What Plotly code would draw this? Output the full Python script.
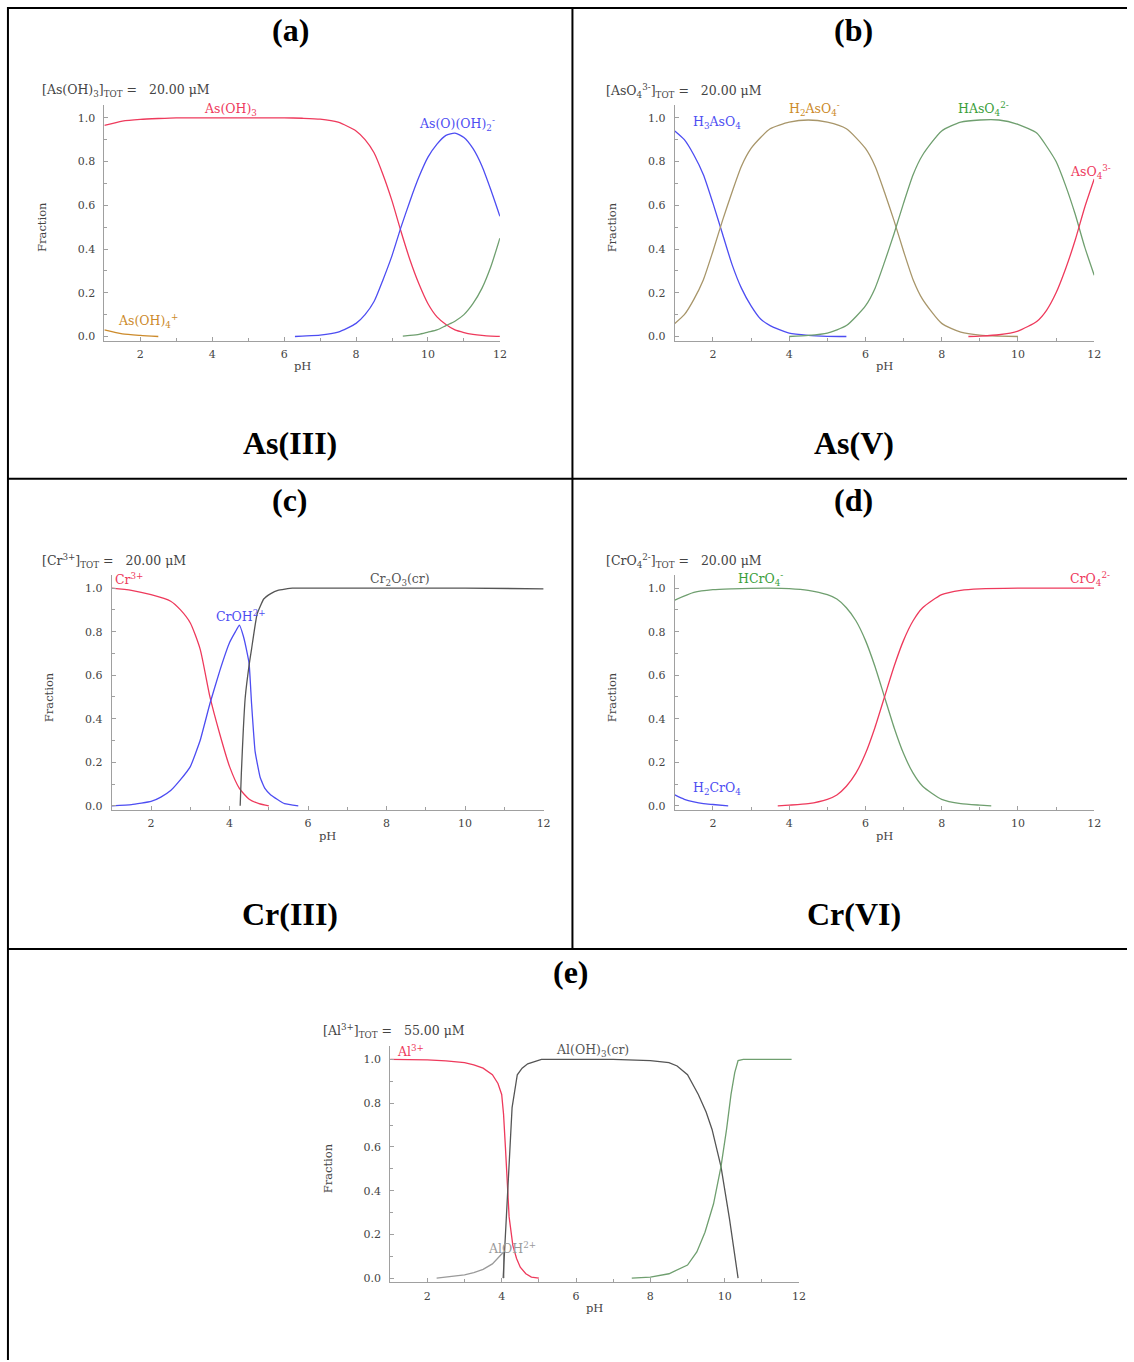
import plotly.graph_objects as go

W, H = 1134, 1362

# ---------------- DATA ----------------
# Panel (a) As(III)
ph_a = [1, 1.5, 2, 2.5, 3, 3.5, 4, 4.5, 5, 5.5, 6, 6.5, 7, 7.5, 8, 8.25, 8.5, 8.75, 9,
        9.25, 9.5, 9.75, 10, 10.25, 10.5, 10.75, 11, 11.25, 11.5, 11.75, 12]
as_oh3 = [0.965, 0.985, 0.993, 0.997, 1.0, 1.0, 1.0, 1.0, 1.0, 1.0, 1.0, 0.998, 0.994, 0.98, 0.94,
          0.9, 0.84, 0.74, 0.62, 0.48, 0.35, 0.24, 0.15, 0.09, 0.055, 0.03, 0.018, 0.01, 0.005, 0.002, 0.001]
ph_a_b = [6.3, 6.5, 7, 7.5, 8, 8.25, 8.5, 8.75, 9, 9.25, 9.5, 9.75, 10, 10.25, 10.5, 10.75, 11,
          11.25, 11.5, 11.75, 12]
as_o_oh2 = [0, 0.002, 0.006, 0.02, 0.06, 0.1, 0.16, 0.26, 0.37, 0.5, 0.62, 0.73, 0.82, 0.88, 0.92,
            0.93, 0.91, 0.86, 0.78, 0.67, 0.55]
ph_a_g = [9.3, 9.5, 9.75, 10, 10.25, 10.5, 10.75, 11, 11.25, 11.5, 11.75, 12]
aso2_oh = [0.002, 0.005, 0.01, 0.02, 0.03, 0.05, 0.07, 0.1, 0.15, 0.22, 0.32, 0.45]
ph_a_lo = [1, 1.5, 2, 2.5]
as_oh4 = [0.03, 0.012, 0.005, 0.0]

# Panel (b) As(V)
ph_b_1 = [1, 1.25, 1.5, 1.75, 2, 2.25, 2.5, 2.75, 3, 3.25, 3.5, 4, 4.5, 5, 5.5]
h3aso4 = [0.94, 0.9, 0.83, 0.74, 0.61, 0.47, 0.33, 0.22, 0.14, 0.08, 0.05, 0.015, 0.005, 0.001, 0]
ph_b_2 = [1, 1.25, 1.5, 1.75, 2, 2.25, 2.5, 2.75, 3, 3.25, 3.5, 4, 4.5, 5, 5.5, 6, 6.25, 6.5,
          6.75, 7, 7.25, 7.5, 8, 8.5, 9, 9.5, 10]
h2aso4 = [0.06, 0.1, 0.17, 0.26, 0.39, 0.53, 0.66, 0.78, 0.86, 0.91, 0.95, 0.98, 0.99, 0.98, 0.95,
          0.86, 0.78, 0.66, 0.53, 0.39, 0.26, 0.17, 0.06, 0.02, 0.006, 0.002, 0]
ph_b_3 = [4, 4.5, 5, 5.5, 6, 6.25, 6.5, 6.75, 7, 7.25, 7.5, 8, 8.5, 9, 9.5, 10, 10.5, 10.75, 11,
          11.25, 11.5, 11.75, 12]
haso4 = [0, 0.005, 0.016, 0.05, 0.14, 0.22, 0.34, 0.47, 0.61, 0.74, 0.83, 0.94, 0.98, 0.99, 0.99,
         0.97, 0.93, 0.87, 0.8, 0.69, 0.56, 0.41, 0.28]
ph_b_4 = [8.7, 9, 9.5, 10, 10.5, 10.75, 11, 11.25, 11.5, 11.75, 12]
aso4 = [0, 0.002, 0.008, 0.025, 0.07, 0.12, 0.2, 0.31, 0.44, 0.59, 0.72]

# Panel (c) Cr(III)
ph_c_cr3 = [1, 1.5, 2, 2.5, 2.75, 3, 3.25, 3.5, 3.75, 4, 4.25, 4.5, 4.75, 5]
cr3 = [1.0, 0.99, 0.97, 0.94, 0.9, 0.84, 0.72, 0.5, 0.33, 0.18, 0.08, 0.03, 0.01, 0.0]
ph_c_croh = [1, 1.5, 2, 2.25, 2.5, 2.75, 3, 3.25, 3.5, 3.75, 4, 4.15, 4.25, 4.35, 4.45, 4.5,
             4.56, 4.65, 4.78, 4.9, 5.05, 5.4, 5.75]
croh = [0.0, 0.005, 0.02, 0.04, 0.07, 0.12, 0.18, 0.3, 0.47, 0.62, 0.75, 0.8, 0.83, 0.78, 0.7,
        0.65, 0.47, 0.25, 0.13, 0.08, 0.05, 0.01, 0.0]
ph_c_ox = [4.27, 4.3, 4.35, 4.4, 4.5, 4.56, 4.7, 4.87, 5.05, 5.23, 5.6, 6, 8, 10, 12]
cr2o3 = [0, 0.15, 0.35, 0.5, 0.65, 0.72, 0.88, 0.95, 0.975, 0.99, 1.0, 1.0, 1.0, 1.0, 0.997]

# Panel (d) Cr(VI)
ph_d_h = [1, 1.5, 2, 2.5, 3, 3.5, 4, 4.5, 5, 5.25, 5.5, 5.75, 6, 6.25, 6.5, 6.75, 7, 7.25,
          7.5, 8, 8.5, 9, 9.3]
hcro4 = [0.945, 0.98, 0.993, 0.997, 0.999, 1.0, 0.998, 0.99, 0.97, 0.95, 0.91, 0.85, 0.76, 0.64,
         0.5, 0.36, 0.24, 0.15, 0.09, 0.03, 0.01, 0.003, 0.0]
ph_d_h2 = [1, 1.25, 1.5, 1.75, 2, 2.4]
h2cro4 = [0.05, 0.03, 0.018, 0.01, 0.006, 0.0]
ph_d_c = [3.7, 4, 4.5, 5, 5.25, 5.5, 5.75, 6, 6.25, 6.5, 6.75, 7, 7.25, 7.5, 8, 8.5, 9, 10, 11, 12]
cro4 = [0, 0.003, 0.01, 0.03, 0.05, 0.09, 0.15, 0.24, 0.36, 0.5, 0.64, 0.76, 0.85, 0.91, 0.97,
        0.99, 0.997, 1.0, 1.0, 1.0]

# Panel (e) Al
ph_e_al = [1, 1.5, 2, 2.5, 3, 3.25, 3.5, 3.75, 3.9, 4.0, 4.05, 4.1, 4.15, 4.2, 4.3, 4.4, 4.5,
           4.65, 4.8, 5.0]
al3 = [1.0, 1.0, 0.998, 0.993, 0.985, 0.975, 0.96, 0.93, 0.89, 0.84, 0.75, 0.6, 0.42, 0.28,
       0.15, 0.09, 0.05, 0.02, 0.005, 0.0]
ph_e_aloh = [2.25, 2.75, 3, 3.25, 3.5, 3.75, 3.9, 4.0, 4.05, 4.06]
aloh = [0.0, 0.008, 0.015, 0.025, 0.04, 0.065, 0.09, 0.11, 0.12, 0.0]
ph_e_s = [4.04, 4.1, 4.14, 4.2, 4.28, 4.42, 4.55, 4.7, 5.07, 5.5, 6, 7, 8, 8.5, 8.72, 9.0, 9.29,
          9.5, 9.66, 9.9, 10.13, 10.25, 10.36]
aloh3 = [0, 0.2, 0.33, 0.55, 0.78, 0.93, 0.96, 0.98, 1.0, 1.0, 1.0, 1.0, 0.995, 0.985, 0.97,
         0.93, 0.84, 0.76, 0.68, 0.51, 0.27, 0.14, 0.0]
ph_e_ao = [7.5, 8, 8.5, 9, 9.25, 9.47, 9.7, 9.9, 10.05, 10.17, 10.27, 10.36, 10.5, 11, 11.5, 11.8]
aloh4 = [0, 0.005, 0.02, 0.06, 0.12, 0.21, 0.34, 0.51, 0.68, 0.84, 0.94, 0.995, 1.0, 1.0, 1.0, 1.0]

x_ticks = [2, 4, 6, 8, 10, 12]
y_ticks = [0.0, 0.2, 0.4, 0.6, 0.8, 1.0]

# ---------------- STYLE ----------------
RED = "#ee3a5c"
BLUE = "#4d4df2"
GREEN = "#3a9e3a"
GREEN_L = "#6f9f6f"
ORANGE = "#cc8a2a"
OLIVE = "#a8966a"
DARK = "#555555"
GRAY = "#9a9a9a"
FONT = "DejaVu Serif"
TXT = "#444444"
AX = "#a0a0a0"

# panels: pixel positions of pH=1, pH=12, frac=0, frac=1
panels = {
    "a": dict(x1=105, x12=503, y0=337, y1=118),
    "b": dict(x1=679, x12=1101, y0=337, y1=118),
    "c": dict(x1=112.5, x12=547, y0=807, y1=589),
    "d": dict(x1=679, x12=1101, y0=807, y1=589),
    "e": dict(x1=392.6, x12=804, y0=1280, y1=1061),
}
YR = [-0.02, 1.06]

fig = go.Figure()
layout_axes = {}
annotations = []


def pann(text, px, py, size, color=TXT, family=FONT, xanchor="center", angle=0):
    annotations.append(dict(text=text, xref="paper", yref="paper", x=px / W, y=1 - py / H,
                            xanchor=xanchor, yanchor="middle", textangle=angle,
                            showarrow=False, font=dict(family=family, size=size, color=color)))


order = ["a", "b", "c", "d", "e"]
for i, k in enumerate(order):
    p = panels[k]
    n = "" if i == 0 else str(i + 1)
    s = p["y0"] - p["y1"]
    bot = p["y0"] - YR[0] * s
    top = p["y0"] - YR[1] * s
    layout_axes["xaxis" + n] = dict(
        domain=[p["x1"] / W, p["x12"] / W], range=[1, 12], anchor="y" + n,
        tickvals=x_ticks, showline=True, linecolor=AX, linewidth=1,
        ticks="inside", ticklen=4, tickcolor=AX, ticklabelstandoff=3,
        minor=dict(dtick=1, tick0=0, ticks="inside", ticklen=3, tickcolor=AX),
        showgrid=False, zeroline=False,
        tickfont=dict(family=FONT, size=11, color=TXT))
    layout_axes["yaxis" + n] = dict(
        domain=[1 - bot / H, 1 - top / H], range=YR, anchor="x" + n,
        tickvals=y_ticks, ticktext=["%.1f" % v for v in y_ticks],
        showline=True, linecolor=AX, linewidth=1,
        ticks="inside", ticklen=4, tickcolor=AX, ticklabelstandoff=6,
        minor=dict(dtick=0.1, tick0=0, ticks="inside", ticklen=3, tickcolor=AX),
        showgrid=False, zeroline=False,
        tickfont=dict(family=FONT, size=11, color=TXT))
    pann("Fraction", p["x1"] - 63, (p["y0"] + p["y1"]) / 2, 11.5, angle=-90)
    pann("pH", (p["x1"] + p["x12"]) / 2, p["y0"] + 30, 11.5)


def add_line(panel_idx, x, y, color, shape="spline", smoothing=0.6):
    n = "" if panel_idx == 0 else str(panel_idx + 1)
    line = dict(color=color, width=1.3, shape=shape)
    if shape == "spline":
        line["smoothing"] = smoothing
    fig.add_trace(go.Scatter(x=x, y=y, mode="lines", xaxis="x" + n, yaxis="y" + n,
                             line=line, showlegend=False, hoverinfo="skip"))


def label(panel_idx, text, x, y, color):
    n = "" if panel_idx == 0 else str(panel_idx + 1)
    annotations.append(dict(text=text, x=x, y=y, xref="x" + n, yref="y" + n,
                            showarrow=False, xanchor="center", yanchor="middle",
                            font=dict(family=FONT, size=12.5, color=color)))


# (a)
add_line(0, ph_a, as_oh3, RED)
add_line(0, ph_a_b, as_o_oh2, BLUE)
add_line(0, ph_a_g, aso2_oh, GREEN_L)
add_line(0, ph_a_lo, as_oh4, ORANGE)
label(0, "As(OH)<sub>3</sub>", 4.5, 1.04, RED)
label(0, "As(O)(OH)<sub>2</sub><sup>-</sup>", 10.8, 0.97, BLUE)
label(0, "AsO<sub>2</sub>(OH)<sup>2-</sup>", 12.35, 0.47, GREEN)
label(0, "As(OH)<sub>4</sub><sup>+</sup>", 2.2, 0.07, ORANGE)

# (b)
add_line(1, ph_b_1, h3aso4, BLUE)
add_line(1, ph_b_2, h2aso4, OLIVE)
add_line(1, ph_b_3, haso4, GREEN_L)
add_line(1, ph_b_4, aso4, RED)
label(1, "H<sub>3</sub>AsO<sub>4</sub>", 2.1, 0.98, BLUE)
label(1, "H<sub>2</sub>AsO<sub>4</sub><sup>-</sup>", 4.67, 1.04, ORANGE)
label(1, "HAsO<sub>4</sub><sup>2-</sup>", 9.1, 1.04, GREEN)
label(1, "AsO<sub>4</sub><sup>3-</sup>", 11.9, 0.75, RED)

# (c)
add_line(2, ph_c_cr3, cr3, RED)
add_line(2, ph_c_croh, croh, BLUE, smoothing=0.35)
add_line(2, ph_c_ox, cr2o3, DARK, smoothing=0.35)
label(2, "Cr<sup>3+</sup>", 1.45, 1.04, RED)
label(2, "CrOH<sup>2+</sup>", 4.3, 0.87, BLUE)
label(2, "Cr<sub>2</sub>O<sub>3</sub>(cr)", 8.33, 1.04, DARK)

# (d)
add_line(3, ph_d_h, hcro4, GREEN_L)
add_line(3, ph_d_h2, h2cro4, BLUE)
add_line(3, ph_d_c, cro4, RED)
label(3, "HCrO<sub>4</sub><sup>-</sup>", 3.25, 1.04, GREEN)
label(3, "H<sub>2</sub>CrO<sub>4</sub>", 2.1, 0.08, BLUE)
label(3, "CrO<sub>4</sub><sup>2-</sup>", 11.9, 1.04, RED)

# (e)
add_line(4, ph_e_al, al3, RED, shape="linear")
add_line(4, ph_e_aloh, aloh, GRAY, shape="linear")
add_line(4, ph_e_s, aloh3, DARK, shape="linear")
add_line(4, ph_e_ao, aloh4, GREEN_L, shape="linear")
label(4, "Al<sup>3+</sup>", 1.55, 1.04, RED)
label(4, "Al(OH)<sub>3</sub>(cr)", 6.45, 1.04, DARK)
label(4, "Al(OH)<sub>4</sub><sup>-</sup>", 12.05, 1.04, GREEN)
label(4, "AlOH<sup>2+</sup>", 4.27, 0.14, GRAY)

# concentration headers (pixel positions)
conc = [
    ("[As(OH)<sub>3</sub>]<sub>TOT</sub> =\u00a0\u00a0\u00a020.00 \u03bcM", 40, 91),
    ("[AsO<sub>4</sub><sup>3-</sup>]<sub>TOT</sub> =\u00a0\u00a0\u00a020.00 \u03bcM", 608, 91),
    ("[Cr<sup>3+</sup>]<sub>TOT</sub> =\u00a0\u00a0\u00a020.00 \u03bcM", 40, 562),
    ("[CrO<sub>4</sub><sup>2-</sup>]<sub>TOT</sub> =\u00a0\u00a0\u00a020.00 \u03bcM", 608, 562),
    ("[Al<sup>3+</sup>]<sub>TOT</sub> =\u00a0\u00a0\u00a055.00 \u03bcM", 323, 1033),
]
for t, px, py in conc:
    pann(t, px, py, 12.5, xanchor="left")

# panel titles
titles = [("(a)", 292, 30), ("(b)", 859, 30), ("As(III)", 292, 444), ("As(V)", 859, 444),
          ("(c)", 292, 501), ("(d)", 859, 501), ("Cr(III)", 292, 915), ("Cr(VI)", 859, 915),
          ("(e)", 575, 973)]
for t, px, py in titles:
    pann("<b>%s</b>" % t, px, py, 32, color="black", family="Liberation Serif")

# table border lines (pixel coordinates)
border = [(8, 8, 1134, 8), (8, 479.5, 1134, 479.5), (8, 950.5, 1134, 950.5),
          (8, 7, 8, 1362), (576, 8, 576, 950.5)]
shapes = []
for x0, y0, x1, y1 in border:
    shapes.append(dict(type="line", xref="paper", yref="paper", x0=x0 / W, x1=x1 / W,
                       y0=1 - y0 / H, y1=1 - y1 / H, line=dict(color="black", width=2)))

fig.update_layout(width=W, height=H, margin=dict(l=0, r=0, t=0, b=0),
                  paper_bgcolor="white", plot_bgcolor="white",
                  annotations=annotations, shapes=shapes, **layout_axes)

post = (
    "document.documentElement.style.overflow='hidden';"
    "document.body.style.margin='0';document.body.style.overflow='hidden';"
)
fig.write_html("out.html", config={"displayModeBar": False, "responsive": False},
               post_script=post)
